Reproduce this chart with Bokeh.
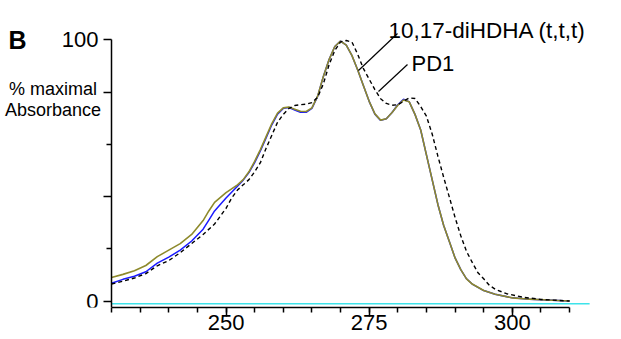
from bokeh.plotting import figure
from bokeh.models import Range1d, FixedTicker, Label
from bokeh.embed import file_html
from bokeh.resources import INLINE

# ---- data ----
pd1_x = [230, 232, 234, 236, 238, 240, 242, 244, 246, 247, 248, 250, 252, 253, 254, 255,
         256, 257, 258, 259, 260, 261, 262, 263, 264, 265, 266, 267, 268, 269, 270, 271,
         272, 273, 274, 275, 276, 277, 278, 279, 280, 281, 282, 283, 284, 285, 286, 287,
         288, 289, 290, 291, 292, 293, 295, 297, 300, 303, 306, 310]
pd1_y = [9.0, 10.2, 11.6, 13.6, 17.0, 19.5, 22.0, 25.5, 30.8, 34.5, 37.8, 41.5, 44.5, 46.5,
         49.5, 53.5, 58.0, 63.0, 68.0, 72.0, 74.0, 74.3, 73.5, 72.7, 72.6, 74.0, 78.5, 86.0,
         92.5, 97.5, 99.6, 98.0, 94.0, 88.5, 82.5, 76.5, 71.7, 69.3, 69.8, 72.2, 75.0, 77.0,
         76.3, 71.5, 65.5, 56.0, 46.5, 37.0, 29.0, 22.8, 16.5, 12.0, 8.5, 6.5, 4.0, 2.6,
         1.2, 0.7, 0.4, 0.0]

blue_x = [230, 232, 234, 236, 238, 240, 242, 244, 246, 247, 248, 250, 252, 253, 254, 255,
          256, 257, 258, 259, 260, 261, 262, 263, 264, 265, 266, 267, 268, 269, 270, 271,
          272, 273, 274, 275, 276, 277, 278, 279, 280, 281, 282, 283, 284, 285, 286, 287,
          288, 289, 290, 291, 292, 293, 295, 297, 300, 303, 306, 310]
blue_y = [6.8, 8.3, 9.5, 11.2, 14.5, 16.8, 19.5, 23.0, 27.5, 31.0, 34.5, 39.5, 44.0, 46.3,
          49.2, 53.0, 57.5, 62.5, 67.5, 71.6, 73.8, 74.1, 73.2, 72.3, 72.3, 73.8, 78.4, 86.0,
          92.5, 97.5, 99.6, 98.0, 94.0, 88.5, 82.5, 76.5, 71.6, 69.2, 69.8, 72.2, 75.2, 77.3,
          76.3, 71.5, 65.5, 56.0, 46.5, 37.0, 29.0, 22.8, 16.5, 12.0, 8.5, 6.5, 4.0, 2.6,
          1.2, 0.7, 0.4, 0.0]

tttx = [230, 232, 234, 236, 238, 240, 242, 244, 246, 248, 250, 251, 252, 253, 254, 255,
        256, 257, 258, 259, 260, 261, 262, 263, 264, 265, 266, 267, 268, 269, 270, 271,
        272, 273, 274, 275, 276, 277, 278, 279, 280, 281, 282, 283, 284, 285, 286, 287,
        288, 289, 290, 291, 292, 293, 294, 295, 296, 297, 299, 302, 305, 310]
ttty = [6.5, 7.6, 8.8, 10.5, 13.5, 15.5, 18.5, 22.0, 25.5, 29.5, 35.5, 39.5, 42.5, 44.5,
        46.5, 49.5, 53.0, 58.5, 63.5, 68.5, 71.5, 73.8, 74.9, 75.2, 75.4, 76.0, 78.0, 83.2,
        90.5, 96.0, 99.3, 99.8, 99.2, 94.5, 89.0, 85.0, 81.0, 77.5, 75.7, 75.0, 75.2, 76.5,
        77.8, 77.6, 74.5, 70.8, 64.0, 55.5, 47.5, 39.8, 32.0, 25.0, 19.0, 14.8, 10.8, 8.5,
        6.0, 4.5, 2.8, 1.4, 0.6, 0.0]

base_x = [230, 313.5]
base_y = [-1.1, -1.1]

x_major = [250, 275, 300]
x_minor = list(range(230, 311, 5))
y_major = [0, 40, 80, 100]
y_minor = [20, 60]
y_labels = {0: "0", 40: "", 80: "", 100: "100"}

# ---- layout (pixels) ----
W, H = 621, 339
FL, FR, FT, FB = 0, 29, 10, 32          # frame spans from the left edge
AX_PX = 111                              # where x = 230 (the y axis) sits
PX_PER_X = 5.726
FW, FH = W - FL - FR, H - FT - FB
X0 = 230.0 - (AX_PX - FL) / PX_PER_X
X1 = X0 + FW / PX_PER_X
Y0, Y1 = -2.49, 111.3


def dx(px):
    return X0 + (px - FL) * (X1 - X0) / FW


def dy(py):
    return Y1 - (py - FT) * (Y1 - Y0) / FH


p = figure(width=W, height=H, output_backend="svg", toolbar_location=None,
           x_range=Range1d(X0, X1), y_range=Range1d(Y0, Y1),
           min_border_left=FL, min_border_right=FR, min_border_top=FT, min_border_bottom=FB)
p.grid.visible = False
p.outline_line_color = None
p.background_fill_color = "white"
p.border_fill_color = "white"

FONT = "Liberation Sans"

xa = p.xaxis[0]
xa.ticker = FixedTicker(ticks=x_major, minor_ticks=x_minor)
xa.bounds = (230, 310)
xa.axis_line_width = 1.5
xa.major_tick_line_width = 1.5
xa.minor_tick_line_width = 1.5
xa.major_tick_out = 9
xa.major_tick_in = 0
xa.minor_tick_out = 5
xa.minor_tick_in = 0
xa.major_label_text_font = FONT
xa.major_label_text_font_size = "22px"
xa.major_label_text_color = "black"
xa.major_label_standoff = -2

ya = p.yaxis[0]
ya.fixed_location = 230
ya.ticker = FixedTicker(ticks=y_major, minor_ticks=y_minor)
ya.major_label_overrides = y_labels
ya.bounds = (Y0, 100)
ya.axis_line_width = 1.5
ya.major_tick_line_width = 1.5
ya.minor_tick_line_width = 1.5
ya.major_tick_out = 8
ya.major_tick_in = 0
ya.minor_tick_out = 5
ya.minor_tick_in = 0
ya.major_label_text_font = FONT
ya.major_label_text_font_size = "22px"
ya.major_label_text_color = "black"
ya.major_label_standoff = 5
ya.major_label_orientation = "horizontal"

# curves
p.line(base_x, base_y, line_color="#3de3ea", line_width=1.5)
p.line(blue_x, blue_y, line_color="#1a1aff", line_width=1.5)
p.line(pd1_x, pd1_y, line_color="#8e8a2c", line_width=1.6)
p.line(tttx, ttty, line_color="black", line_width=1.4, line_dash="4 3")

# leader lines
p.segment(x0=[dx(397), dx(407)], y0=[dy(33), dy(64)],
          x1=[dx(358), dx(378)], y1=[dy(70), dy(91)],
          line_color="black", line_width=1.2)


def lab(text, px, py, size, align="left", bold=False):
    p.add_layout(Label(x=dx(px), y=dy(py), text=text, text_font=FONT,
                       text_font_size=size, text_align=align,
                       text_baseline="alphabetic", text_color="black",
                       text_font_style="bold" if bold else "normal"))


lab("10,17-diHDHA (t,t,t)", 388, 30, "22.5px")
lab("PD1", 411, 62.5, "22px")
lab("% maximal", 52.5, 88.3, "18px", align="center")
lab("Absorbance", 52.5, 109.3, "18px", align="center")
lab("B", 8, 39, "25px", bold=True)

open("out.html", "w").write(file_html(p, INLINE))
